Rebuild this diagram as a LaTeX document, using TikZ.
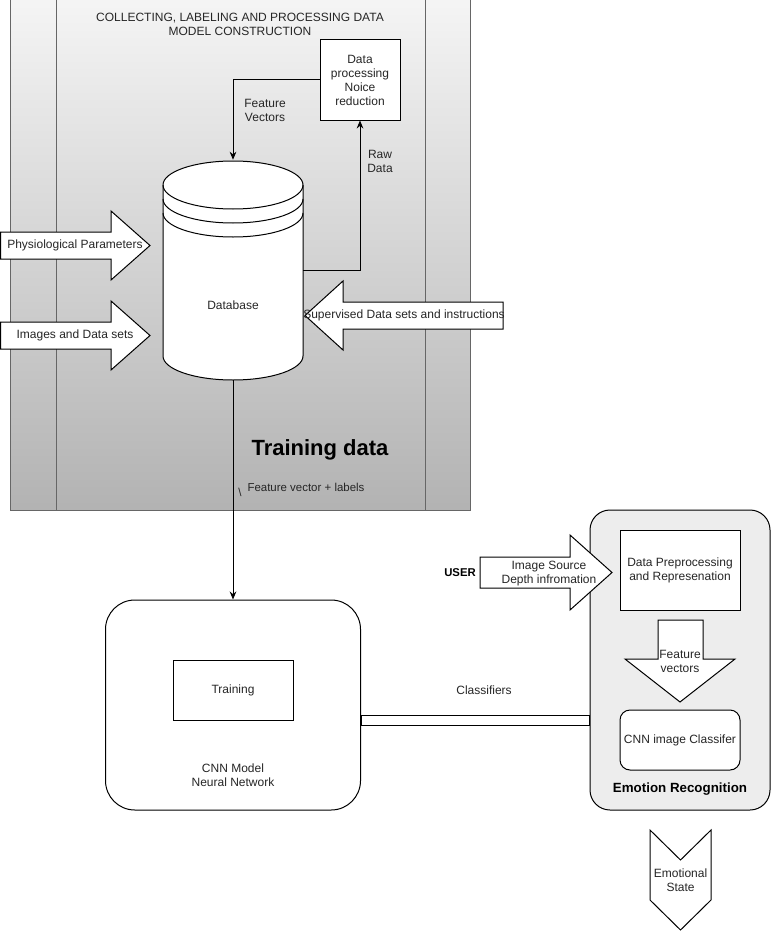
\documentclass[tikz,border=0pt]{standalone}
\usepackage{fontspec}
\setmainfont{Liberation Sans}
\usetikzlibrary{arrows.meta}

\tikzset{
  txt/.style={font=\fontsize{9}{10.5}\selectfont, text=black!85, align=center, inner sep=0pt},
  smalltxt/.style={font=\fontsize{8.6}{10}\selectfont, text=black!85, align=center, inner sep=0pt},
  boldtxt/.style={font=\bfseries\fontsize{10}{12}\selectfont, align=center, inner sep=0pt},
  wbox/.style={draw, fill=white, line width=0.75pt, inner sep=0pt},
  blk/.style={draw, fill=white, line width=0.75pt, line join=miter},
  arr/.style={-{Stealth[length=6pt,width=5pt]}, line width=0.75pt},
}

\begin{document}
\begin{tikzpicture}[x=0.75pt, y=-0.75pt]
    \useasboundingbox (0,0) rectangle (771,931);

    % Training data panel
    \draw[black!60, line width=0.75pt, top color=black!4, bottom color=black!30] (10.5,-3) rectangle (470,510);
    \draw[black!60, line width=0.75pt] (56.5,-3) -- (56.5,510);
    \draw[black!60, line width=0.75pt] (425,-3) -- (425,510);
    \node[txt] (title) at (240,24.5) {COLLECTING, LABELING AND PROCESSING DATA\\MODEL CONSTRUCTION};
    \node[font=\bfseries\fontsize{16.5}{19}\selectfont, inner sep=0pt] (trdata) at (320,450) {Training data};

    % Data processing box
    \node[wbox, minimum width=60pt, minimum height=60pt, txt] (dp) at (360,80) {Data\\processing\\Noice\\reduction};

    % Database cylinder
    \node[minimum width=105pt, minimum height=165pt, inner sep=0pt] (db) at (233,270) {};
    \filldraw[fill=white, line width=0.75pt] (163,185) -- (163,356)
        arc[start angle=180, end angle=360, x radius=52.5pt, y radius=18pt]
        -- (303,185) arc[start angle=0, end angle=180, x radius=52.5pt, y radius=18pt] -- cycle;
    \draw[line width=0.75pt] (163,185) arc[start angle=180, end angle=360, x radius=52.5pt, y radius=18pt];
    \draw[line width=0.75pt] (163,199) arc[start angle=180, end angle=360, x radius=52.5pt, y radius=18pt];
    \draw[line width=0.75pt] (163,213) arc[start angle=180, end angle=360, x radius=52.5pt, y radius=18pt];
    \node[txt] (dblbl) at (233,305) {Database};

    % Feature vectors and raw data
    \draw[arr] (dp.west) -| (db.north);
    \node[txt] (fvlbl) at (265,110.5) {Feature\\Vectors};
    \draw[arr] (db.east) -| (dp.south);
    \node[txt] (rawlbl) at (380,161) {Raw\\Data};

    % Input block arrows
    \draw[blk] (0.5,232) -- (111,232) -- (111,211) -- (150,245.5) -- (111,280) -- (111,259) -- (0.5,259) -- cycle;
    \node[txt] (phys) at (75,245.5) {Physiological Parameters};
    \draw[blk] (0.5,322) -- (111,322) -- (111,301) -- (150,335.5) -- (111,370) -- (111,349) -- (0.5,349) -- cycle;
    \node[txt] (imgs) at (75,335.5) {Images and Data sets};
    \draw[blk] (503,302) -- (343,302) -- (343,281) -- (305,315.5) -- (343,350) -- (343,329) -- (503,329) -- cycle;
    \node[txt] (sup) at (404,315.5) {Supervised Data sets and instructions};

    % CNN model
    \node[wbox, rounded corners=22pt, minimum width=191.25pt, minimum height=157.5pt] (cnn) at (233,705) {};
    \node[wbox, minimum width=90pt, minimum height=45pt, txt] (train) at (233,690) {Training};
    \node[txt] (cnnlbl) at (233,775.5) {CNN Model\\Neural Network};
    \draw[arr] (db.south) -- (cnn.north);
    \node[smalltxt] (fvl) at (306,487) {Feature vector + labels};
    \node[smalltxt] (slash) at (240,492) {\textbackslash};

    % Emotion recognition
    \node[draw, fill=black!7, line width=0.75pt, rounded corners=15pt, minimum width=135pt, minimum height=225pt] (er) at (680,660) {};
    \node[boldtxt] (erlbl) at (680,789) {Emotion Recognition};
    \node[wbox, minimum width=90pt, minimum height=60pt, txt] (prep) at (680,570) {Data Preprocessing\\and Represenation};
    \node[wbox, rounded corners=7.5pt, minimum width=90pt, minimum height=45pt, txt] (cls) at (680,740) {CNN image Classifer};
    \draw[blk] (658,620) -- (703,620) -- (703,659) -- (735,659) -- (680,702) -- (625,659) -- (658,659) -- cycle;
    \node[txt] (fvec) at (680,661) {Feature\\vectors};

    % Classifiers link
    \coordinate (c1) at ([yshift=-7.5pt]cnn.east);
    \coordinate (c2) at ([yshift=-15pt]cnn.east);
    \draw[line width=0.75pt, fill=white] (c1) rectangle (c2 -| er.west);
    \node[txt] (clslbl) at (484,690) {Classifiers};

    % User input
    \node[boldtxt, font=\bfseries\fontsize{8.5}{10}\selectfont] (user) at (460,573) {USER};
    \draw[blk] (480,557) -- (570,557) -- (570,535) -- (612,572.5) -- (570,610) -- (570,588) -- (480,588) -- cycle;
    \node[txt] (src) at (549,574) {Image Source\\Depth infromation};

    % Output
    \draw[blk] (650,830) -- (680.5,860) -- (711,830) -- (711,900) -- (680.5,930) -- (650,900) -- cycle;
    \node[txt] (state) at (680.5,880.5) {Emotional\\State};
\end{tikzpicture}
\end{document}
